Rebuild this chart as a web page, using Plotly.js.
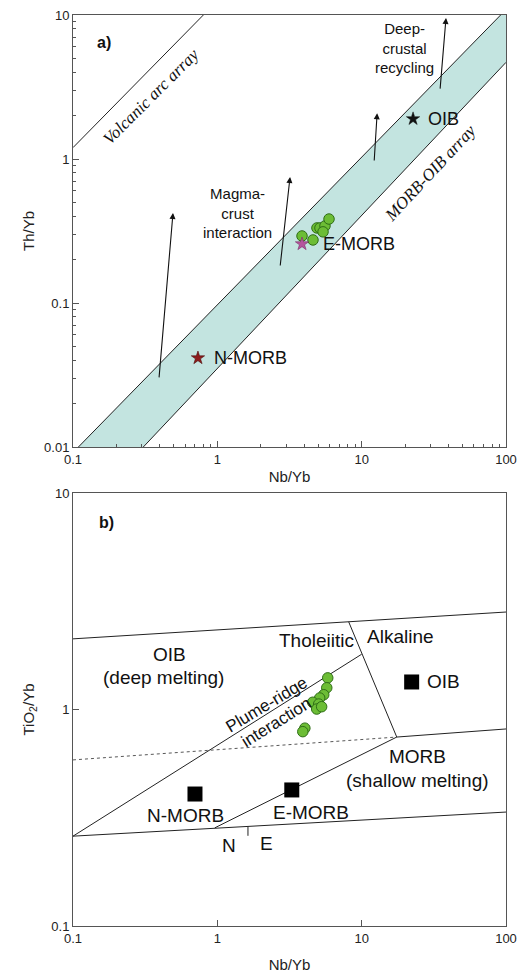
<!DOCTYPE html>
<html>
<head>
<meta charset="utf-8">
<script src="https://cdn.plot.ly/plotly-3.0.1.min.js"></script>
<style>html,body{margin:0;padding:0;background:#fff;}#chart{width:517px;height:973px;}</style>
</head>
<body>
<div id="chart"></div>
<script>
// ---------- Tick labels ----------
const xTickVals = [0.1, 1, 10, 100];
const xTickText = ["0.1", "1", "10", "100"];
const yTopTickVals = [0.01, 0.1, 1, 10];
const yTopTickText = ["0.01", "0.1", "1", "10"];
const yBotTickVals = [0.1, 1, 10];
const yBotTickText = ["0.1", "1", "10"];
const minorVals = [0.2,0.3,0.4,0.5,0.6,0.7,0.8,0.9,2,3,4,5,6,7,8,9,20,30,40,50,60,70,80,90];
const minorValsY = [0.02,0.03,0.04,0.05,0.06,0.07,0.08,0.09,0.2,0.3,0.4,0.5,0.6,0.7,0.8,0.9,2,3,4,5,6,7,8,9];

// ---------- Panel a: Th/Yb vs Nb/Yb ----------
const volcArcX = [0.1, 0.8];
const volcArcY = [1.2, 10];
const bandUpperX = [0.109, 91.8];
const bandUpperY = [0.01, 10];
const bandLowerX = [0.307, 100];
const bandLowerY = [0.01, 4.69];
const bandPolyX = [0.109, 91.8, 100, 100, 0.307, 0.109];
const bandPolyY = [0.01, 10, 10, 4.69, 0.01, 0.01];

// arrows: tail -> head
const arrowTailX = [0.394, 2.72, 12.2, 34.9];
const arrowTailY = [0.0297, 0.178, 0.953, 3.01];
const arrowHeadX = [0.493, 3.19, 12.8, 38.4];
const arrowHeadY = [0.422, 0.75, 2.08, 9.53];

const sampleA_NbYb = [3.86, 4.60, 4.90, 5.14, 5.57, 5.94, 5.40];
const sampleA_ThYb = [0.292, 0.274, 0.332, 0.332, 0.343, 0.383, 0.312];

const refA_names = ["N-MORB", "E-MORB", "OIB"];
const refA_NbYb = [0.734, 3.86, 22.7];
const refA_ThYb = [0.0415, 0.257, 1.90];

// ---------- Panel b: TiO2/Yb vs Nb/Yb ----------
const upperBoundX = [0.1, 100];
const upperBoundY = [2.12, 2.82];
const tholAlkX = [8.13, 17.5];
const tholAlkY = [2.54, 0.746];
const plumeX = [0.1, 10];
const plumeY = [0.26, 1.8];
const dottedX = [0.1, 17.5];
const dottedY = [0.585, 0.746];
const morbTopX = [17.5, 100];
const morbTopY = [0.746, 0.813];
const emorbLineX = [0.96, 17.5];
const emorbLineY = [0.284, 0.746];
const lowerBoundX = [0.1, 100];
const lowerBoundY = [0.26, 0.336];
const neTickX = [1.63, 1.63];
const neTickY = [0.288, 0.261];

const sampleB_NbYb = [5.82, 5.73, 5.46, 5.12, 4.58, 5.04, 4.88, 5.28, 4.04, 3.91];
const sampleB_TiYb = [1.40, 1.26, 1.17, 1.13, 1.08, 1.06, 1.005, 1.03, 0.82, 0.79];

const refB_names = ["N-MORB", "E-MORB", "OIB"];
const refB_NbYb = [0.70, 3.28, 22.2];
const refB_TiYb = [0.407, 0.425, 1.34];

// ---------- styles ----------
const FONT = "Liberation Sans, Arial, sans-serif";
const SERIF = "Liberation Serif, Times New Roman, serif";
const lineStyle = {color: "#222", width: 1};
const L = Math.log10;

function seg(x, y, xa, ya, dash) {
  return {x: x, y: y, xaxis: xa, yaxis: ya, mode: "lines", type: "scatter",
          line: Object.assign({}, lineStyle, dash ? {dash: dash, width: 0.9, color: "#444"} : {}),
          hoverinfo: "skip", showlegend: false, cliponaxis: true};
}

const traces = [
  {x: bandPolyX, y: bandPolyY, xaxis: "x", yaxis: "y", mode: "lines", type: "scatter",
   fill: "toself", fillcolor: "#c3e4e0", line: {width: 0, color: "rgba(0,0,0,0)"}, hoverinfo: "skip"},
  seg(volcArcX, volcArcY, "x", "y"),
  seg(bandUpperX, bandUpperY, "x", "y"),
  seg(bandLowerX, bandLowerY, "x", "y"),
  {x: sampleA_NbYb, y: sampleA_ThYb, xaxis: "x", yaxis: "y", mode: "markers", type: "scatter",
   marker: {symbol: "circle", size: 10.5, color: "#6cbd35", line: {color: "#2f6e17", width: 1}}},
  {x: [refA_NbYb[0]], y: [refA_ThYb[0]], xaxis: "x", yaxis: "y", mode: "markers", type: "scatter",
   marker: {symbol: "star", size: 10, color: "#8e1c1c", line: {color: "#4a0c0c", width: 0.6}}},
  {x: [refA_NbYb[1]], y: [refA_ThYb[1]], xaxis: "x", yaxis: "y", mode: "markers", type: "scatter",
   marker: {symbol: "star", size: 10, color: "#b5559e", line: {color: "#7a2e68", width: 0.6}}},
  {x: [refA_NbYb[2]], y: [refA_ThYb[2]], xaxis: "x", yaxis: "y", mode: "markers", type: "scatter",
   marker: {symbol: "star", size: 10, color: "#111", line: {color: "#111", width: 0.5}}},

  seg(upperBoundX, upperBoundY, "x2", "y2"),
  seg(tholAlkX, tholAlkY, "x2", "y2"),
  seg(plumeX, plumeY, "x2", "y2"),
  seg(dottedX, dottedY, "x2", "y2", "dot"),
  seg(morbTopX, morbTopY, "x2", "y2"),
  seg(emorbLineX, emorbLineY, "x2", "y2"),
  seg(lowerBoundX, lowerBoundY, "x2", "y2"),
  seg(neTickX, neTickY, "x2", "y2"),
  {x: refB_NbYb, y: refB_TiYb, xaxis: "x2", yaxis: "y2", mode: "markers", type: "scatter",
   marker: {symbol: "square", size: 15, color: "#000"}},
  {x: sampleB_NbYb, y: sampleB_TiYb, xaxis: "x2", yaxis: "y2", mode: "markers", type: "scatter",
   marker: {symbol: "circle", size: 10.5, color: "#6cbd35", line: {color: "#2f6e17", width: 1}}}
];

const annotations = [];
// arrows
for (let i = 0; i < arrowHeadX.length; i++) {
  annotations.push({xref: "x", yref: "y", axref: "x", ayref: "y",
    x: L(arrowHeadX[i]), y: L(arrowHeadY[i]), ax: L(arrowTailX[i]), ay: L(arrowTailY[i]),
    text: "", showarrow: true, arrowhead: 2, arrowsize: 1.1, arrowwidth: 1.1, arrowcolor: "#111"});
}
function txt(t, xref, yref, x, y, size, extra) {
  return Object.assign({xref: xref, yref: yref, x: x, y: y, text: t, showarrow: false,
    font: {family: FONT, size: size, color: "#111"}}, extra || {});
}
// panel a labels
annotations.push(txt("<b>a)</b>", "x domain", "y domain", 0.051, 0.96, 16));
annotations.push(txt("<i>Volcanic arc array</i>", "x", "y", -0.46, 0.437, 17,
  {textangle: -45, font: {family: SERIF, size: 17, color: "#111"}}));
annotations.push(txt("<i>MORB-OIB array</i>", "x", "y", 1.48, -0.097, 17,
  {textangle: -47, font: {family: SERIF, size: 17, color: "#111"}}));
annotations.push(txt("Magma-<br>crust<br>interaction", "x", "y", 0.143, -0.375, 15));
annotations.push(txt("Deep-<br>crustal<br>recycling", "x", "y", 1.30, 0.771, 15));
const shiftA = [[14, 0], [19, 0], [13, 0]];
for (let i = 0; i < refA_names.length; i++) {
  annotations.push(txt(refA_names[i], "x", "y", L(refA_NbYb[i]), L(refA_ThYb[i]), 18,
    {xanchor: "left", xshift: shiftA[i][0], yshift: shiftA[i][1]}));
}
// panel b labels
annotations.push(txt("<b>b)</b>", "x2 domain", "y2 domain", 0.055, 0.956, 16));
annotations.push(txt("OIB", "x2", "y2", -0.328, 0.252, 19));
annotations.push(txt("(deep melting)", "x2", "y2", -0.376, 0.15, 19));
annotations.push(txt("Tholeiitic", "x2", "y2", 0.684, 0.321, 19));
annotations.push(txt("Alkaline", "x2", "y2", 1.266, 0.335, 19));
annotations.push(txt("Plume-ridge", "x2", "y2", 0.344, 0.021, 17, {textangle: -31}));
annotations.push(txt("interaction", "x2", "y2", 0.406, -0.058, 17, {textangle: -32}));
annotations.push(txt("MORB", "x2", "y2", 1.39, -0.219, 19));
annotations.push(txt("(shallow melting)", "x2", "y2", 1.39, -0.330, 19));
annotations.push(txt("N", "x2", "y2", 0.081, -0.626, 19));
annotations.push(txt("E", "x2", "y2", 0.344, -0.617, 19));
const shiftB = [[-9, -21, "center"], [19, -23, "center"], [13, 0, "left"]];
for (let i = 0; i < refB_names.length; i++) {
  annotations.push(txt(refB_names[i], "x2", "y2", L(refB_NbYb[i]), L(refB_TiYb[i]), 19,
    {xanchor: shiftB[i][2], xshift: shiftB[i][0], yshift: shiftB[i][1]}));
}

function axisBase(extra) {
  return Object.assign({type: "log", showline: true, mirror: true, linecolor: "#555", linewidth: 1,
    ticks: "inside", ticklen: 6, tickcolor: "#555", showgrid: false, zeroline: false,
    tickfont: {family: FONT, size: 13, color: "#222"}}, extra);
}

const layout = {
  width: 517, height: 973,
  margin: {l: 73, r: 11, t: 15, b: 47},
  paper_bgcolor: "#fff", plot_bgcolor: "#fff",
  showlegend: false,
  xaxis: axisBase({domain: [0, 1], anchor: "y", range: [-1, 2], tickmode: "array",
    tickvals: xTickVals, ticktext: xTickText,
    minor: {tickmode: "array", tickvals: minorVals, ticks: "inside", ticklen: 3, tickcolor: "#555", showgrid: false},
    title: {text: "Nb/Yb", standoff: 5, font: {family: FONT, size: 15, color: "#222"}}}),
  yaxis: axisBase({domain: [0.5258, 1], anchor: "x", range: [-2, 1], tickmode: "array",
    tickvals: yTopTickVals, ticktext: yTopTickText,
    minor: {tickmode: "array", tickvals: minorValsY, ticks: "inside", ticklen: 3, tickcolor: "#555", showgrid: false},
    title: {text: "Th/Yb", standoff: 5, font: {family: FONT, size: 15, color: "#222"}}}),
  xaxis2: axisBase({domain: [0, 1], anchor: "y2", range: [-1, 2], tickmode: "array",
    tickvals: xTickVals, ticktext: xTickText,
    title: {text: "Nb/Yb", standoff: 15, font: {family: FONT, size: 15, color: "#222"}}}),
  yaxis2: axisBase({domain: [0, 0.4753], anchor: "x2", range: [-1, 1], tickmode: "array",
    tickvals: yBotTickVals, ticktext: yBotTickText,
    title: {text: "TiO<sub>2</sub>/Yb", standoff: 13, font: {family: FONT, size: 15, color: "#222"}}}),
  annotations: annotations
};

Plotly.newPlot("chart", traces, layout, {staticPlot: true, displayModeBar: false});
</script>
</body>
</html>
